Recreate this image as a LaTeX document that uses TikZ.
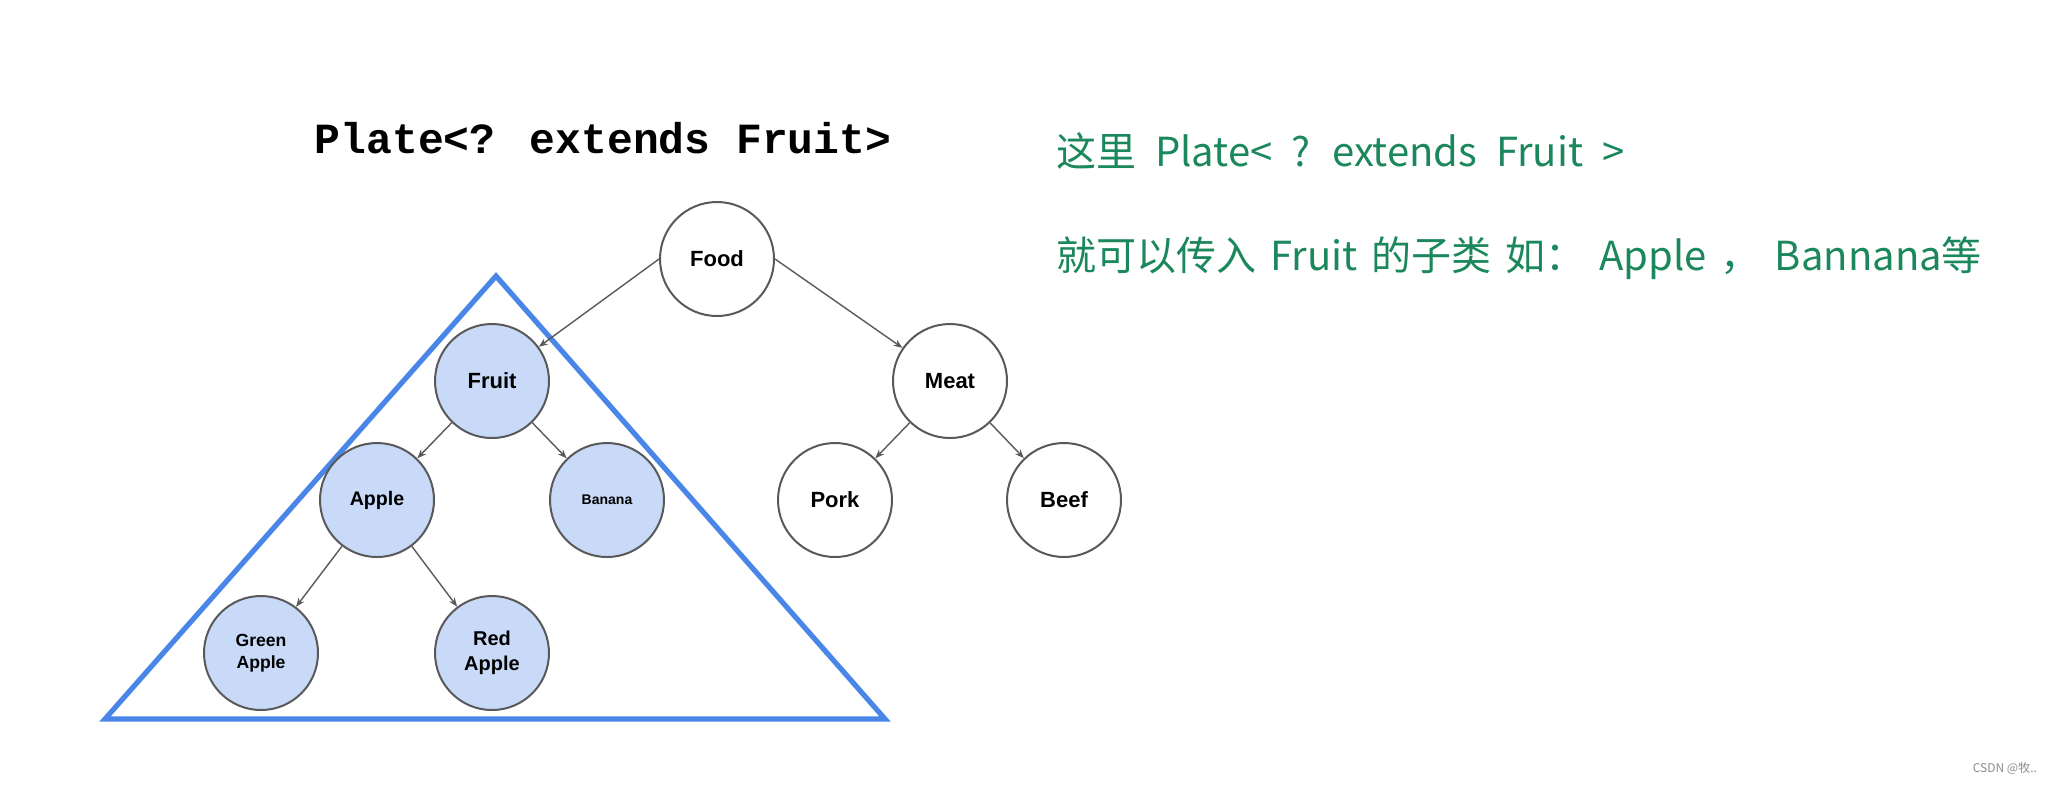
\documentclass[tikz,border=0pt]{standalone}
\usepackage{fontspec}
\setmainfont{Liberation Sans}
\newfontfamily\titlefont{Liberation Mono}
\newfontfamily\cjk{Noto Sans CJK SC}
\usetikzlibrary{arrows.meta}
\definecolor{plateblue}{HTML}{4A86E8}
\definecolor{nodefill}{HTML}{C9DAF8}
\definecolor{edgegray}{HTML}{595959}
\definecolor{notegreen}{HTML}{1B875C}
\tikzset{
  treenode/.style={circle,draw=edgegray,line width=1pt,minimum size=57pt,inner sep=0pt,
    font=\bfseries\fontsize{11}{12.5}\selectfont,align=center},
  fruitnode/.style={treenode,fill=nodefill},
  edge/.style={draw=edgegray,line width=0.7pt,-{Stealth[length=4.5pt,width=3.5pt]}},
  plate/.style={draw=plateblue,line width=2.6pt,line join=miter},
  note/.style={anchor=west,text=notegreen,font=\cjk\fontsize{20}{24}\selectfont,inner sep=0pt}
}
\begin{document}
\begin{tikzpicture}[x=0.5pt,y=-0.5pt]
\useasboundingbox (0,0) rectangle (2054,784);
% title
\node[font=\titlefont\bfseries\fontsize{21.5}{24}\selectfont] (title) at (603,138) {Plate<? extends Fruit>};
% plate triangle
\coordinate (tA) at (496,276);
\coordinate (tB) at (105,719);
\coordinate (tC) at (885,719);
\draw[plate] (tA) -- (tB) -- (tC) -- cycle;
% nodes
\node[treenode] (food) at (717,259) {Food};
\node[fruitnode] (fruit) at (492,381) {Fruit};
\node[treenode] (meat) at (950,381) {Meat};
\node[fruitnode,font=\bfseries\fontsize{9.8}{12}\selectfont] (apple) at (377,500) {Apple};
\node[fruitnode,font=\bfseries\fontsize{7}{8}\selectfont] (banana) at (607,500) {Banana};
\node[treenode] (pork) at (835,500) {Pork};
\node[treenode] (beef) at (1064,500) {Beef};
\node[fruitnode,font=\bfseries\fontsize{8.8}{11}\selectfont] (green) at (261,653) {Green\\Apple};
\node[fruitnode,font=\bfseries\fontsize{10}{12.5}\selectfont] (red) at (492,653) {Red\\Apple};
% edges
\draw[edge] (food.west) -- (fruit);
\draw[edge] (food.east) -- (meat);
\draw[edge] (fruit) -- (apple);
\draw[edge] (fruit) -- (banana);
\draw[edge] (meat) -- (pork);
\draw[edge] (meat) -- (beef);
\draw[edge] (apple) -- (green);
\draw[edge] (apple) -- (red);
% notes
\node[note] (n1) at (1056,151) {\spaceskip=0.47em 这里 Plate< ? extends Fruit >};
\node[note] (n2) at (1056,258) {\spaceskip=0.35em 就可以传入 Fruit 的子类 如： Apple ， Bannana等};
% watermark
\node[text=black!45,font=\cjk\fontsize{6}{7}\selectfont,anchor=east] (wm) at (2044,768) {CSDN @牧..};
\end{tikzpicture}
\end{document}
